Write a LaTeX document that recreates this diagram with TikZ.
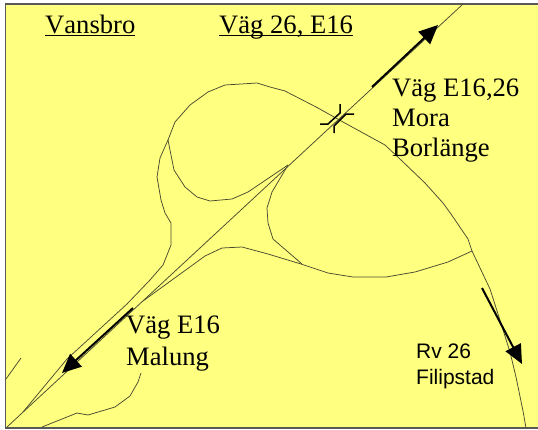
\documentclass[tikz,border=0pt]{standalone}
\usepackage{fontspec}
\setmainfont[Kerning=Off]{Liberation Serif}
\newfontfamily\arialfont[Kerning=Off]{Liberation Sans}
\usetikzlibrary{arrows.meta}
\definecolor{mapyellow}{HTML}{FFFF80}
\definecolor{roadgray}{HTML}{4A4A30}
\newcommand{\ulbox}[1]{\setbox0=\hbox{#1}\rlap{\rule[-2.9pt]{\wd0}{1.7pt}}\box0}
\tikzset{
  road/.style={draw=roadgray,line width=0.75pt,line join=round},
  frameline/.style={draw=black!65,line width=1.2pt},
  bigarrow/.style={draw=black,line width=2pt,-{Triangle[length=19pt,width=17pt]}},
  bridge/.style={draw=black,line width=1.5pt},
  serlabel/.style={anchor=base west,inner sep=0pt,font=\fontsize{26.6}{30}\selectfont},
  sanslabel/.style={anchor=base west,inner sep=0pt,font=\arialfont\fontsize{21}{26}\selectfont}
}
\begin{document}
\begin{tikzpicture}[x=1pt,y=-1pt]
\useasboundingbox (0,0) rectangle (538,429);
\fill[white] (0,0) rectangle (538,429);
\fill[mapyellow] (5.5,4) rectangle (538,428);
\draw[frameline] (538,4) -- (5.5,4) -- (5.5,428) -- (538,428);
% main road
\draw[road] (7,427) -- (463,4);
% outer ramp and Rv 26
\draw[road] (23,412) -- (67,359) -- (127,304) -- (150,280) -- (163,265) -- (171,245) -- (171,223) -- (165,213) -- (161,200) -- (157,177) -- (160,158) -- (168,140) -- (175,122) -- (190,105) -- (208,92) -- (225,85) -- (257,83) -- (270,87) -- (285,91) -- (318,108) -- (343,122) -- (385,145) -- (401,160) -- (425,183) -- (443,203) -- (451,214) -- (468,239) -- (472,251) -- (490,289) -- (498,314) -- (510,352) -- (516,377) -- (523,411) -- (526,428);
% inner loop
\draw[road] (168,140) -- (174,170) -- (185,187) -- (197,197) -- (210,201) -- (232,199) -- (248,192) -- (288,165);
% right loop
\draw[road] (288,165) -- (272,192) -- (267,208) -- (268,223) -- (273,239) -- (302,264);
% lower ramp
\draw[road] (143,301) -- (205,256) -- (222,248) -- (242,247) -- (268,254) -- (301,264) -- (328,273) -- (353,277) -- (386,277) -- (415,272) -- (448,262) -- (472,251);
% side roads
\draw[road] (6,379) -- (21,358);
\draw[road] (42,427) -- (77,413) -- (88,415) -- (115,407) -- (130,396) -- (138,382) -- (141,373);
% bridge
\draw[bridge] (320,124) -- (328,124) -- (340,113) -- (340,104);
\draw[bridge] (334,133) -- (334,126) -- (346,114) -- (354,114);
% arrows
\coordinate (aS) at (372,87); \coordinate (aT) at (438,25);
\coordinate (bS) at (133,308); \coordinate (bT) at (62,373);
\coordinate (cS) at (482,288); \coordinate (cT) at (522,364);
\draw[bigarrow] (aS) -- (aT);
\draw[bigarrow] (bS) -- (bT);
\draw[bigarrow] (cS) -- (cT);
% labels
\node[serlabel] (vansbro) at (45,33.5) {\ulbox{Vansbro}};
\node[serlabel] (vag) at (219,33.5) {\ulbox{Väg 26, E16}};
\node[serlabel] (t1) at (392,96) {Väg E16,26};
\node[serlabel] (t2) at (392,126) {Mora};
\node[serlabel] (t3) at (392,156.5) {Borlänge};
\node[serlabel] (t4) at (126,333) {Väg E16};
\node[serlabel] (t5) at (126,365) {Malung};
\node[sanslabel] (t6) at (416,358) {Rv 26};
\node[sanslabel] (t7) at (416,384) {Filipstad};
\end{tikzpicture}
\end{document}
